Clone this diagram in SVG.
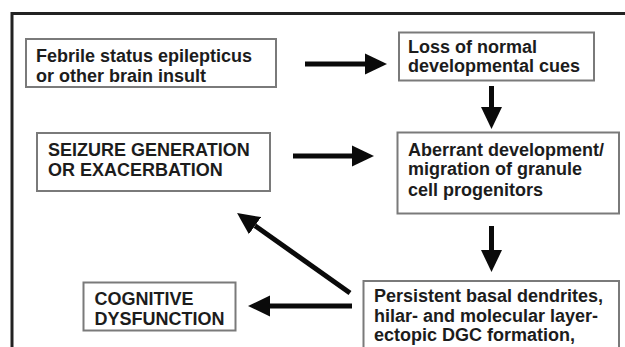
<svg xmlns="http://www.w3.org/2000/svg" width="625" height="347" viewBox="0 0 625 347">
<style>
  .box { fill: #ffffff; stroke: #7a7a7a; stroke-width: 2; }
  .txt { font-family: "Liberation Sans", Arial, Helvetica, sans-serif; font-weight: bold; font-size: 18px; fill: #1c1c1c; }
  .conn { stroke: #0a0a0a; stroke-width: 5; fill: none; marker-end: url(#head); }
  .frame { stroke: #222222; stroke-width: 3; fill: none; }
</style>
<defs>
  <marker id="head" markerUnits="userSpaceOnUse" markerWidth="23" markerHeight="22" refX="0" refY="10.5" orient="auto" viewBox="0 0 23 21">
    <path d="M0,0 L22,10.5 L0,21 Z" fill="#0a0a0a"/>
  </marker>
</defs>
<rect x="0" y="0" width="625" height="347" fill="#ffffff"/>
<path class="frame" d="M12,347 L12,13.5 L625,13.5"/>

<g id="febrile">
  <rect class="box" x="26" y="39" width="250" height="48"/>
  <text class="txt" x="36" y="62">Febrile status epilepticus</text>
  <text class="txt" x="36" y="81.5">or other brain insult</text>
</g>
<g id="loss">
  <rect class="box" x="399" y="32.5" width="195" height="48"/>
  <text class="txt" x="408" y="52.5">Loss of normal</text>
  <text class="txt" x="408" y="71.5">developmental cues</text>
</g>
<g id="seizure">
  <rect class="box" x="37" y="133" width="233" height="58"/>
  <text class="txt" x="48" y="156">SEIZURE GENERATION</text>
  <text class="txt" x="48" y="175.5">OR EXACERBATION</text>
</g>
<g id="aberrant">
  <rect class="box" x="397.5" y="132.5" width="221.5" height="81"/>
  <text class="txt" x="408" y="155.5">Aberrant development/</text>
  <text class="txt" x="408" y="175">migration of granule</text>
  <text class="txt" x="408" y="195.5">cell progenitors</text>
</g>
<g id="cognitive">
  <rect class="box" x="83.5" y="282.5" width="152" height="48"/>
  <text class="txt" x="94.5" y="305">COGNITIVE</text>
  <text class="txt" x="94.5" y="325">DYSFUNCTION</text>
</g>
<g id="persistent">
  <rect class="box" x="363.5" y="281" width="255.5" height="80"/>
  <text class="txt" x="374" y="301.5">Persistent basal dendrites,</text>
  <text class="txt" x="374" y="321.5">hilar- and molecular layer-</text>
  <text class="txt" x="374" y="341">ectopic DGC formation,</text>
</g>

<g id="connectors">
  <line class="conn" x1="305" y1="64" x2="365" y2="64"/>
  <line class="conn" x1="491.5" y1="86" x2="491.5" y2="107"/>
  <line class="conn" x1="293" y1="156" x2="352" y2="156"/>
  <line class="conn" x1="491.5" y1="226" x2="491.5" y2="250"/>
  <line class="conn" x1="350" y1="293" x2="255" y2="225.7"/>
  <line class="conn" x1="352" y1="306" x2="270" y2="306"/>
</g>
</svg>
